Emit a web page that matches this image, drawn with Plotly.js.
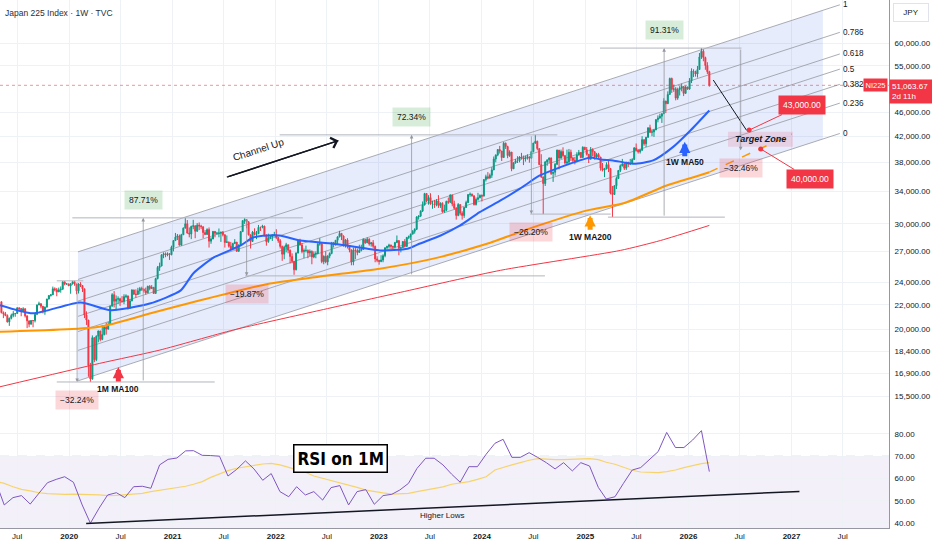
<!DOCTYPE html>
<html>
<head>
<meta charset="utf-8">
<script src="https://cdn.plot.ly/plotly-3.0.1.min.js"></script>
<style>
html,body{margin:0;padding:0;background:#fff;}
#chart{width:932px;height:550px;}
</style>
</head>
<body>
<div id="chart"></div>
<script>
// ---------------- DATA ----------------
const chartTitle = 'Japan 225 Index · 1W · TVC';

// Weekly candles (week starting Monday), first week 2019-05-06
const weekStart = '2019-05-06';
const firstOpen = 22259;
const closes = [
 21345,21250,21117,20601,20885,21117,21259,21276,21746,21686,21467,21658,21087,20685,20419,20711,20704,21199,21988,22079,21879,21410,21799,22493,22800,22851,23392,23303,23113,23294,23354,24023,23817,23837,23657,
 23850,24041,23827,23205,23828,23688,23387,21143,20749,17431,16552,19389,17820,19498,19897,19262,19619,20179,20037,20388,21877,22863,22305,22478,22512,22306,22290,22696,22751,21710,22329,23289,22920,22882,23205,23406,23360,23204,23029,23619,23410,23516,22977,24325,25385,25527,26644,26751,26652,26763,26656,27444,
 28139,28519,28631,27663,28779,29520,30018,28966,28864,29717,29792,29176,29854,29768,29683,29020,28812,29357,28084,28317,29149,28941,28948,28964,29066,28783,27940,28003,27548,27283,27820,27977,27013,27641,29128,30381,30500,30249,28771,28049,29069,28805,28893,29612,29610,29746,28752,28030,28438,28546,28783,28792,
 28479,28124,27522,26717,27440,27696,27122,26477,25985,25163,26827,28150,27666,26986,27093,27105,26848,27004,26428,26739,26782,27762,27824,25963,26491,25936,26517,26788,27915,27802,28176,28547,28930,28641,27650,28214,27568,27153,25937,27116,27091,26891,27105,27199,28264,27900,28283,27778,27901,27527,26235,26095,
 25974,26120,26554,27383,27510,27671,27514,27454,27927,28144,27334,27385,28041,27518,28493,28564,28856,29158,29388,30808,30916,31524,32265,33706,32781,33189,32388,32391,32304,32759,32193,32473,31450,31624,32710,32606,33533,32402,31857,30995,32315,31259,30991,31950,32568,33585,33625,33431,32307,32970,33169,33464,
 33377,35577,35963,35751,36158,36897,38487,39098,39910,39689,38707,40888,40369,38992,39523,37068,37934,38236,38229,38787,38646,38488,38683,38815,38596,39583,40912,41190,40063,37667,35910,35025,38062,38364,38647,36391,36581,37723,39829,38635,39605,38981,37913,38053,39500,38642,38283,38208,39091,39470,38701,40281,
 39894,39190,38451,39931,39572,38787,39149,38776,37156,36887,37053,37677,37120,33781,33586,34730,35705,36831,37503,37754,37160,37965,37742,37834,38403,40150,39811,39570,39819,41456,40800,41820,43378,42633,42718,43019,44768,45046,45355,45770,48089,47582,49300,52411,50276,50377,48626,50254,50492,50837,49507,50750,50339,
 51940,53936,53847,53322,54254,56941,58200,56800,55100,53800,51063.67
];
const highs = [
 22260,21450,21400,21200,20950,21260,21470,21300,21780,21750,21700,21790,21710,21090,20700,20740,20750,21250,22020,22260,22140,21900,21850,22500,22810,22920,23590,23520,23460,23500,23600,24090,24090,23900,23840,
 23900,24120,24120,23830,23900,23990,23700,23390,21450,20750,17600,19560,19390,19560,19920,19900,20360,20260,20530,20600,21950,23000,23180,22800,22720,22600,22740,22900,22900,22800,22500,23340,23300,23340,23480,23560,23580,23420,23500,23660,23720,23720,23560,24400,25530,25860,26700,26900,26900,26900,26800,27600,
 28200,28980,28860,28800,28880,29600,30710,30450,29600,29800,30480,29800,30100,30170,29900,29700,29300,29500,29600,28500,29200,29200,29100,29480,29100,29200,28800,28700,28000,28000,27900,28300,27950,27740,29200,30400,30670,30300,30300,28800,29200,29500,29200,29880,29650,29900,29800,28800,28900,28700,28800,29100,
 29400,28500,28300,27600,27600,27900,27500,27200,26800,26000,26900,28200,28340,27900,27300,27600,27200,27200,27100,27000,27000,27900,28400,27800,26600,27000,26600,26900,28000,28000,28200,28600,29220,28800,28700,28300,28400,27600,27200,27400,27400,27300,27700,27700,28400,28300,28500,28400,28000,28200,27600,26500,
 26100,26600,26700,27400,27600,27800,27700,27600,28000,28700,27800,27500,28100,28300,28500,28700,28900,29300,29500,30900,31000,31600,32700,33800,33770,33500,33750,32800,32900,33000,33500,32600,32600,32300,32800,33200,33600,33200,32800,32000,32500,32300,31500,32000,32800,33600,33850,33700,33400,33200,33800,33600,
 33600,35600,36240,36600,36400,37300,38860,39150,39990,40470,39300,41090,41000,40500,39800,39400,38000,38500,38900,38900,39400,39000,39000,39200,38800,39700,40950,42224,41300,40000,39200,36000,38200,38400,38700,38700,36700,37900,39900,38700,39900,40250,39100,39900,40000,39900,38800,38800,39500,39850,39500,40400,
 40300,40300,39200,40300,40100,39700,39400,39400,38800,37900,37200,38000,38200,37000,34700,34800,36000,36900,37700,38500,37900,38100,38100,38500,38600,40300,40850,39900,40000,42000,41200,41900,43450,43900,43100,43200,44800,45500,45800,45900,48600,48000,49900,52600,52600,51200,50700,50600,50900,51400,50500,51000,50700,
 52500,54500,54300,54000,55000,57800,58909,58600,57000,55800,54000
];
const lows = [
 21280,20900,21050,20550,20290,20800,20970,21010,21270,21450,21050,21400,20950,20110,20180,20400,20180,20560,21190,21960,21700,21280,21170,21790,22450,22700,22840,23160,22730,23100,23040,23300,23700,23750,23640,
 22950,23760,23660,22900,22970,23550,23100,20900,20360,16690,16358,16500,17650,17720,19050,19120,19200,19560,19620,20000,20380,21870,21780,21530,22080,21900,22200,22050,22560,21600,21700,22300,22840,22600,22870,22900,23200,23050,22880,23000,23250,23400,22950,22950,24250,25050,25500,26300,26400,26500,26130,26600,
 27000,28100,28200,27600,27600,28800,29500,28900,28500,28300,29400,28400,29100,29300,29400,28400,28750,28800,27400,27800,28300,28500,28800,28500,28000,28600,27400,27900,27400,27200,27200,27800,26950,26950,27600,29100,30000,29500,28700,27300,28000,28700,28300,28900,29200,29500,28600,27600,27900,28300,28100,28600,
 28300,27900,27300,26040,26200,26900,26800,25770,25800,24681,25100,26800,27600,26800,26300,26900,26300,26500,25700,26300,26300,26700,27600,25800,25700,25800,25600,26300,26700,27400,27600,27700,28500,28200,27500,27400,27300,26900,25600,25600,26200,26600,26900,27000,27200,27800,27900,27600,27500,27300,25900,25900,
 25660,25900,25900,26400,27200,27300,27300,27200,27300,27900,26600,26900,27400,27400,27500,28300,28200,28800,28900,29300,30500,30800,31400,32200,32600,32300,32300,31800,31900,32100,31900,31900,31300,31300,31500,32400,32500,32100,31700,30500,30900,31000,30500,30700,31900,32500,33300,33300,32200,32200,32800,33100,
 32700,33500,35300,35600,35800,35800,36900,38000,38900,39300,38200,38900,40000,38600,38800,36730,37100,37800,37900,38000,38400,37600,38100,38400,37950,38700,39500,40800,39800,37600,35800,31156,34700,37500,37900,36200,35250,36100,37600,37000,38500,38700,37700,37700,37900,38200,37900,37700,38000,39000,38600,38900,
 39800,39000,37900,38500,38900,38400,38500,38600,36800,36700,35900,37000,36600,33600,30792,33600,34300,35700,36600,37400,36900,36900,37300,37600,37700,38400,39600,39300,39300,39700,40500,40300,41800,42500,42000,41900,43200,44300,44900,44200,47000,45900,47900,49300,49600,49800,48200,48300,49100,49900,49000,49600,50200,
 50200,51500,52700,52800,52600,55500,56500,56000,54200,53300,50800
];

// Moving averages
const ma50Dates = ['2019-05-01','2019-08-25','2020-02-10','2020-05-27','2020-10-12','2021-01-30','2021-03-15','2021-05-27','2021-08-30','2021-10-13','2021-12-03','2022-01-15','2022-03-29','2022-07-24','2022-11-22','2023-01-05','2023-04-13','2023-05-27','2023-08-08','2023-10-16','2023-12-24','2024-03-07','2024-05-16','2024-07-24','2024-10-05','2024-12-13','2025-01-19','2025-02-24','2025-04-09','2025-06-21','2025-08-29','2025-11-07','2026-01-08','2026-03-16'];
const ma50Vals = [21960,21290,22200,21540,22100,23250,24810,26380,27620,28480,28700,28700,28150,27800,27280,27100,27280,27830,28700,29830,31390,32830,34380,36130,37300,38280,38720,38420,38280,37790,38280,40280,42940,46370];
const ma200Dates = ['2019-05-01','2020-04-18','2020-10-12','2021-04-09','2021-12-03','2022-06-07','2023-01-05','2023-07-13','2024-01-19','2024-07-02','2025-01-08','2025-05-19','2025-10-16','2026-01-19','2026-03-16'];
const ma200Vals = [19840,20220,21270,22380,23830,24530,25270,26260,27800,29630,31600,32500,34770,35890,36590];
const ma200ProjDates = ['2026-03-16','2027-01-02'];
const ma200ProjVals = [36590,42360];
const ma100mDates = ['2019-05-01','2020-04-18','2020-11-17','2021-08-04','2022-06-07','2023-03-18','2024-03-07','2025-05-05','2025-09-24','2026-03-16'];
const ma100mVals = [16060,17570,18490,19970,21540,23070,25110,27100,28150,29830];

// Monthly RSI (from Apr 2019) and its moving average
const rsiStartYear = 2019, rsiStartMonth = 4;
const rsiVals = [58.5,
 48.1,51.4,52.3,48.5,53.3,58.1,59.6,60.8,
 58.3,48.1,39.9,46.7,52.6,53.6,51.4,56.3,56.5,55.6,66.1,68.6,
 69.2,72.4,72.5,70.4,70.3,70.0,61.1,64.1,67.9,64.3,59.2,62.2,
 54.1,51.8,56.3,52.6,54.1,50.3,55.9,56.8,48.1,54.1,55.0,48.4,
 52.3,52.9,54.8,57.8,64.5,69.1,69.1,66.1,61.9,58.3,65.3,65.3,
 70.9,75.8,77.6,69.5,69.5,71.6,69.5,67.1,64.3,67.1,63.4,67.1,
 65.6,56.0,50.8,51.8,57.8,63.8,64.9,68.3,72.1,80.7,73.9,73.9,
 77.3,81.5,63.1];
const rsiMaVals = [58.6,
 57.8,56.3,55.1,54.4,53.6,53.2,52.9,52.9,
 53.0,53.0,52.7,52.6,52.3,52.4,52.6,52.9,53.3,54.1,54.7,55.4,
 56.0,56.5,57.4,58.6,60.5,62.0,63.5,64.6,65.3,66.1,66.5,66.8,
 66.1,65.0,63.8,62.8,61.1,60.1,58.9,57.8,56.8,56.0,54.8,54.1,
 53.5,53.0,53.0,53.3,54.1,54.8,55.6,56.2,57.4,58.0,58.6,59.6,
 60.8,63.8,65.0,66.1,67.1,68.2,68.9,68.6,68.5,68.5,68.6,68.9,
 68.9,68.5,67.3,66.4,64.9,63.7,62.9,62.6,62.6,63.1,63.8,64.9,
 65.8,66.7,67.1];
const higherLowsDates = ['2020-03-01','2027-01-29'];
const higherLowsVals = [39.8,54.2];

// Fibonacci channel drawing
const chanStart = '2020-02-01', chanEnd = '2027-06-21', shadeEnd = '2027-04-22';
const chanBottom = [16430, 42450];
const chanTop = [26950, 69550];
const fibLevels = [0, 0.236, 0.382, 0.5, 0.618, 0.786, 1];

// Price range measurements
const rangeDates = ['2020-01-29','2020-09-19','2021-09-20','2023-04-27','2024-06-24','2025-10-07','2026-07-05'];
const rangeFrom = [24115,16358,30706,24577,42224,30792,58909];
const rangeTo = [16358,30706,24577,42224,31156,58909,39787];
const rangeText = ['\u221232.24%','87.71%','\u221219.87%','72.34%','\u221226.20%','91.31%','\u221232.46%'];
const levelPrice = [24115,16358,30706,24577,42224,31156,30792,58909];
const levelFrom = ['2019-11-18','2019-11-18','2020-01-12','2021-09-15','2022-01-15','2024-06-20','2025-03-22','2025-02-22'];
const levelTo = ['2020-02-20','2021-05-30','2022-04-07','2024-08-11','2024-09-24','2025-04-01','2026-05-10','2026-07-08'];

// Target zone
const zoneDates = ['2026-05-21','2027-01-06'];
const zonePrices = [40350, 42750];
const targetDates = ['2026-08-04','2026-09-14'];
const targetVals = [43000, 40000];
const targetText = ['43,000.00','40,000.00'];
const pathDates = ['2026-03-30','2026-07-26'];
const pathVals = [52110, 42960];

// Channel Up arrow
const chanUpDates = ['2021-07-12','2022-08-11'];
const chanUpVals = [35900, 41300];

// MA markers
const maMarkDates = ['2020-06-23','2025-01-18','2025-12-19'];
const maMarkTip = [17320, 31030, 41140];
const maMarkLabel = [15920, 28540, 38050];
const maMarkText = ['1M MA100','1W MA200','1W MA50'];

const lastPrice = 51063.67;
const lastPriceText = '51,063.67';
const countdownText = '2d 11h';
const symbolText = 'NI225';
const currencyText = 'JPY';

const xTickVals = ['2019-07-01','2020-01-01','2020-07-01','2021-01-01','2021-07-01','2022-01-01','2022-07-01','2023-01-01','2023-07-01','2024-01-01','2024-07-01','2025-01-01','2025-07-01','2026-01-01','2026-07-01','2027-01-01','2027-07-01'];
const xTickText = ['Jul','2020','Jul','2021','Jul','2022','Jul','2023','Jul','2024','Jul','2025','Jul','2026','Jul','2027','Jul'];
const yTickVals = [60000,55000,46000,42000,38000,34000,30000,27000,24000,22000,20000,18400,16900,15500];
const yTickText = ['60,000.00','55,000.00','46,000.00','42,000.00','38,000.00','34,000.00','30,000.00','27,000.00','24,000.00','22,000.00','20,000.00','18,400.00','16,900.00','15,500.00'];
const rsiTickVals = [80,70,60,50,40];
const rsiTickText = ['80.00','70.00','60.00','50.00','40.00'];

// ---------------- HELPERS ----------------
function addDays(iso, n){ const d = new Date(iso + 'T00:00:00Z'); d.setUTCDate(d.getUTCDate() + n); return d.toISOString().slice(0,10); }
function monthDate(y, m, n, day){ return new Date(Date.UTC(y, m - 1 + n, day)).toISOString().slice(0,10); }
const tms = s => Date.parse(s + 'T00:00:00Z');
function chanPrice(level, date){
  const f = (tms(date) - tms(chanStart)) / (tms(chanEnd) - tms(chanStart));
  const lb = Math.log(chanBottom[0]) + f * (Math.log(chanBottom[1]) - Math.log(chanBottom[0]));
  const lt = Math.log(chanTop[0]) + f * (Math.log(chanTop[1]) - Math.log(chanTop[0]));
  return Math.exp(lb + level * (lt - lb));
}
const L = Math.log10;

const weekDates = closes.map((_, i) => addDays(weekStart, 7 * i));
const opens = closes.map((c, i) => i === 0 ? firstOpen : closes[i - 1]);
const hiSafe = highs.map((h, i) => Math.max(h, opens[i], closes[i]));
const loSafe = lows.map((l, i) => Math.min(l, opens[i], closes[i]));
const rsiDates = rsiVals.map((_, i) => monthDate(rsiStartYear, rsiStartMonth, i, 16));

const RED = '#f23645', GREEN = '#089981', BLUE = '#2962ff', ORANGE = '#ff9800', GRAY = '#9598a1', TXT = '#131722';
const FONT = '"Liberation Sans", Arial, sans-serif';

// ---------------- TRACES ----------------
const traces = [];
traces.push({
  x: [chanStart, shadeEnd, shadeEnd, chanStart, chanStart],
  y: [chanPrice(0, chanStart), chanPrice(0, shadeEnd), chanPrice(1, shadeEnd), chanPrice(1, chanStart), chanPrice(0, chanStart)],
  xaxis: 'x', yaxis: 'y', mode: 'lines', fill: 'toself', fillcolor: 'rgba(60,110,230,0.13)', line: {width: 0}
});
traces.push({
  x: [zoneDates[0], zoneDates[1], zoneDates[1], zoneDates[0], zoneDates[0]],
  y: [zonePrices[0], zonePrices[0], zonePrices[1], zonePrices[1], zonePrices[0]],
  xaxis: 'x', yaxis: 'y', mode: 'lines', fill: 'toself', fillcolor: 'rgba(233,90,120,0.18)', line: {width: 0}
});
fibLevels.forEach(lv => {
  traces.push({x: [chanStart, chanEnd], y: [chanPrice(lv, chanStart), chanPrice(lv, chanEnd)],
    xaxis: 'x', yaxis: 'y', mode: 'lines', line: {color: GRAY, width: 0.8}});
});
traces.push({
  type: 'candlestick', x: weekDates, open: opens, high: hiSafe, low: loSafe, close: closes,
  xaxis: 'x', yaxis: 'y3', whiskerwidth: 0,
  increasing: {line: {color: GREEN, width: 1}, fillcolor: GREEN},
  decreasing: {line: {color: RED, width: 1}, fillcolor: RED}
});
const lx = [], ly = [];
levelPrice.forEach((p, i) => { lx.push(levelFrom[i], levelTo[i], null); ly.push(p, p, null); });
traces.push({x: lx, y: ly, xaxis: 'x', yaxis: 'y3', mode: 'lines', line: {color: '#b2b5be', width: 1}});
traces.push({x: ma100mDates, y: ma100mVals, xaxis: 'x', yaxis: 'y3', mode: 'lines', line: {color: RED, width: 1, shape: 'spline', smoothing: 0.6}});
traces.push({x: ma200Dates, y: ma200Vals, xaxis: 'x', yaxis: 'y3', mode: 'lines', line: {color: ORANGE, width: 2, shape: 'spline', smoothing: 0.6}});
traces.push({x: ma200ProjDates, y: ma200ProjVals, xaxis: 'x', yaxis: 'y3', mode: 'lines', line: {color: ORANGE, width: 1.5, dash: 'dash'}});
traces.push({x: ma50Dates, y: ma50Vals, xaxis: 'x', yaxis: 'y3', mode: 'lines', line: {color: BLUE, width: 2, shape: 'spline', smoothing: 0.6}});
traces.push({x: ['2019-05-01', '2027-12-12'], y: [lastPrice, lastPrice], xaxis: 'x', yaxis: 'y3', mode: 'lines', line: {color: 'rgba(242,54,69,0.55)', width: 1, dash: 'dot'}});
traces.push({x: pathDates, y: pathVals, xaxis: 'x', yaxis: 'y3', mode: 'lines', line: {color: TXT, width: 1}});
traces.push({x: chanUpDates, y: chanUpVals, xaxis: 'x', yaxis: 'y3', mode: 'lines', line: {color: TXT, width: 1.5}});
traces.push({x: targetDates, y: targetVals, xaxis: 'x', yaxis: 'y3', mode: 'markers', marker: {color: RED, size: 5}});
traces.push({x: rsiDates, y: rsiMaVals, xaxis: 'x', yaxis: 'y2', mode: 'lines', line: {color: '#f7d46b', width: 1.2}});
traces.push({x: rsiDates, y: rsiVals, xaxis: 'x', yaxis: 'y2', mode: 'lines', line: {color: '#7e57c2', width: 1}});
traces.push({x: higherLowsDates, y: higherLowsVals, xaxis: 'x', yaxis: 'y2', mode: 'lines', line: {color: TXT, width: 1.5}});

// ---------------- ANNOTATIONS ----------------
const ann = [];
rangeDates.forEach((d, i) => {
  const up = rangeTo[i] > rangeFrom[i];
  ann.push({x: d, y: L(rangeTo[i]), ax: d, ay: L(rangeFrom[i]), xref: 'x', yref: 'y', axref: 'x', ayref: 'y',
    showarrow: true, arrowhead: 2, arrowsize: 0.9, arrowwidth: 0.8, arrowcolor: GRAY, text: '', standoff: 0});
  ann.push({x: d, y: L(rangeTo[i]), xref: 'x', yref: 'y', yshift: up ? 18 : -18, showarrow: false, text: rangeText[i],
    bgcolor: up ? 'rgba(76,175,80,0.22)' : 'rgba(242,54,69,0.2)', borderpad: 4, font: {size: 8.5, color: TXT}});
});
fibLevels.forEach(lv => {
  ann.push({x: chanEnd, y: L(chanPrice(lv, chanEnd)), xref: 'x', yref: 'y', xanchor: 'left', xshift: 2, showarrow: false,
    text: String(lv), font: {size: 8.2, color: TXT}, borderpad: 0});
});
ann.push({x: targetDates[0], y: L(targetVals[0]), xref: 'x', yref: 'y', ax: 53, ay: -25, showarrow: true, arrowhead: 0, arrowwidth: 1, arrowcolor: RED,
  text: targetText[0], bgcolor: RED, borderpad: 4, font: {size: 8.5, color: '#fff'}});
ann.push({x: targetDates[1], y: L(targetVals[1]), xref: 'x', yref: 'y', ax: 49, ay: 30, showarrow: true, arrowhead: 0, arrowwidth: 1, arrowcolor: RED,
  text: targetText[1], bgcolor: RED, borderpad: 4, font: {size: 8.5, color: '#fff'}});
ann.push({x: '2026-09-13', y: L(Math.sqrt(zonePrices[0] * zonePrices[1])), xref: 'x', yref: 'y', showarrow: false,
  text: '<b><i>Target Zone</i></b>', font: {size: 9, color: TXT}});
ann.push({x: chanUpDates[1], y: L(chanUpVals[1]), ax: chanUpDates[0], ay: L(chanUpVals[0]), xref: 'x', yref: 'y', axref: 'x', ayref: 'y',
  showarrow: true, arrowhead: 4, arrowsize: 1.6, arrowwidth: 1.3, arrowcolor: TXT, text: '', standoff: 0});
ann.push({x: '2021-11-02', y: L(39850), xref: 'x', yref: 'y', showarrow: false, textangle: -18, text: 'Channel Up', font: {size: 10, color: TXT}});
const maColors = [RED, ORANGE, BLUE];
maMarkDates.forEach((d, i) => {
  ann.push({x: d, y: L(maMarkTip[i]), xref: 'x', yref: 'y', ax: 0, ay: 16, showarrow: true, arrowhead: 2, arrowsize: 0.45, arrowwidth: 5,
    arrowcolor: maColors[i], text: '', standoff: 0});
  ann.push({x: d, y: L(maMarkLabel[i]), xref: 'x', yref: 'y', showarrow: false, text: '<b>' + maMarkText[i] + '</b>', font: {size: 8.5, color: TXT}});
});
ann.push({x: '2022-08-20', y: 68.9, xref: 'x', yref: 'y2', showarrow: false, text: '<b>RSI on 1M</b>',
  font: {size: 17, color: '#000', family: '"Liberation Sans Narrow", "DejaVu Sans Condensed", "Liberation Sans", sans-serif'},
  bgcolor: '#fff', bordercolor: '#000', borderwidth: 1.5, borderpad: 3});
ann.push({x: '2023-08-12', y: 43.4, xref: 'x', yref: 'y2', showarrow: false, text: 'Higher Lows', font: {size: 8, color: TXT}});
ann.push({xref: 'paper', x: 1, yref: 'y', y: L(lastPrice), xanchor: 'left', yanchor: 'top', yshift: 6, xshift: 0, showarrow: false,
  text: lastPriceText + '<br>' + countdownText, align: 'left', bgcolor: RED, borderpad: 2, width: 41, font: {size: 8, color: '#fff'}});
ann.push({xref: 'paper', x: 1, yref: 'y', y: L(lastPrice), xanchor: 'right', xshift: -1, showarrow: false,
  text: symbolText, bgcolor: RED, borderpad: 1.5, font: {size: 7.5, color: '#fff'}});
ann.push({xref: 'paper', x: 1, yref: 'paper', y: 1, xanchor: 'left', yanchor: 'top', xshift: 4, yshift: -3, showarrow: false,
  text: currencyText, bordercolor: '#e0e3eb', borderwidth: 1, borderpad: 4, width: 26, font: {size: 8, color: TXT}});

// ---------------- LAYOUT ----------------
const yRange = [4.14875, 4.8503];
const layout = {
  width: 932, height: 550,
  margin: {l: 0, r: 43, t: 0, b: 22, pad: 0},
  paper_bgcolor: '#fff', plot_bgcolor: '#fff',
  showlegend: false, hovermode: false,
  font: {family: FONT, size: 8.5, color: TXT},
  title: {text: chartTitle, x: 5 / 932, xanchor: 'left', y: 1 - 13 / 550, yanchor: 'middle', font: {size: 8.5, color: '#2a2e39', family: FONT}},
  xaxis: {
    type: 'date', range: ['2019-05-01', '2027-12-12'], anchor: 'y2',
    tickvals: xTickVals, ticktext: xTickText.map(t => /^\d{4}$/.test(t) ? '<b>' + t + '</b>' : t),
    showgrid: true, gridcolor: '#eef1f6', gridwidth: 1, zeroline: false,
    showline: true, linecolor: '#9598a1', linewidth: 1, ticks: '', tickfont: {size: 8, color: TXT},
    rangeslider: {visible: false}, fixedrange: true
  },
  yaxis: {
    type: 'log', domain: [0.2027, 1], range: yRange, side: 'right', anchor: 'x',
    tickvals: yTickVals, ticktext: yTickText, showgrid: true, gridcolor: '#eef1f6', zeroline: false,
    showline: true, linecolor: '#9598a1', ticks: '', ticklabelstandoff: 3, tickfont: {size: 8, color: TXT}, fixedrange: true
  },
  yaxis3: {
    type: 'log', overlaying: 'y', range: yRange, side: 'right', anchor: 'x',
    showgrid: false, showticklabels: false, showline: false, zeroline: false, ticks: '', fixedrange: true
  },
  yaxis2: {
    domain: [0, 0.2027], range: [37.75, 85.84], side: 'right', anchor: 'x',
    tickvals: rsiTickVals, ticktext: rsiTickText, showgrid: true, gridcolor: '#eef1f6', zeroline: false,
    showline: true, linecolor: '#9598a1', ticks: '', ticklabelstandoff: 3, tickfont: {size: 8, color: TXT}, fixedrange: true
  },
  shapes: [
    {type: 'rect', xref: 'paper', yref: 'y2', x0: 0, x1: 1, y0: 30, y1: 70, fillcolor: 'rgba(126,87,194,0.09)', line: {width: 0}, layer: 'below'},
    {type: 'line', xref: 'paper', yref: 'y2', x0: 0, x1: 1, y0: 70, y1: 70, line: {color: 'rgba(120,123,134,0.35)', width: 1, dash: 'dash'}, layer: 'below'}
  ],
  annotations: ann
};

Plotly.newPlot('chart', traces, layout, {staticPlot: true, displayModeBar: false});
</script>
</body>
</html>
